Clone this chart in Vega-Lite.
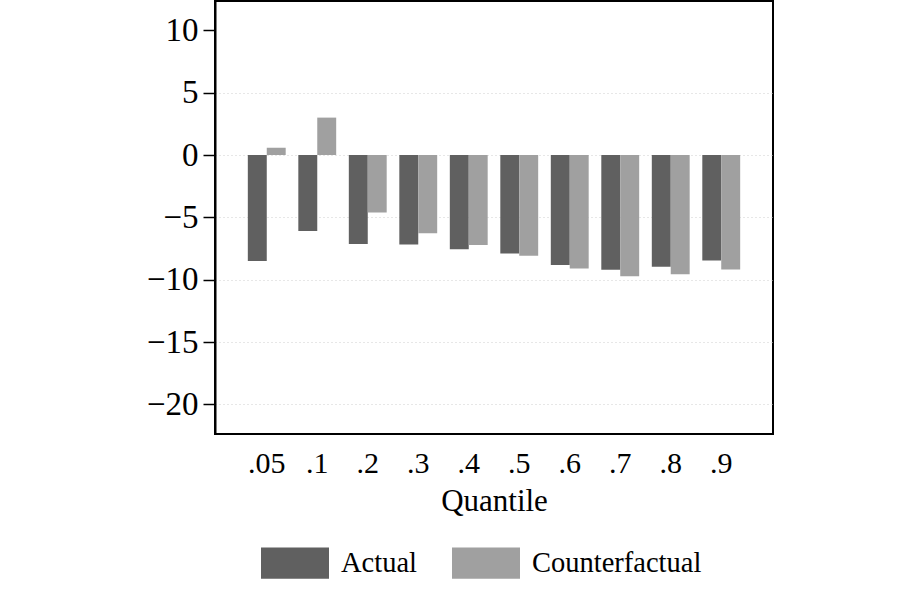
{
  "$schema": "https://vega.github.io/schema/vega-lite/v6.json",
  "width": 558,
  "height": 433,
  "autosize": {"type": "none"},
  "padding": {"left": 215, "top": 1, "right": 127, "bottom": 166},
  "background": "white",
  "config": {
    "font": "Liberation Serif",
    "view": {"stroke": "#000000", "strokeWidth": 2},
    "axis": {"labelColor": "#000000", "titleColor": "#000000", "labelFont": "Liberation Serif", "titleFont": "Liberation Serif", "titleFontWeight": "normal"},
    "legend": {"labelFont": "Liberation Serif", "labelColor": "#000000"}
  },
  "data": {
    "values": [
      {"quantile": ".05", "series": "Actual", "value": -8.5},
      {"quantile": ".05", "series": "Counterfactual", "value": 0.59},
      {"quantile": ".1", "series": "Actual", "value": -6.1},
      {"quantile": ".1", "series": "Counterfactual", "value": 3.0},
      {"quantile": ".2", "series": "Actual", "value": -7.14},
      {"quantile": ".2", "series": "Counterfactual", "value": -4.6},
      {"quantile": ".3", "series": "Actual", "value": -7.17},
      {"quantile": ".3", "series": "Counterfactual", "value": -6.28},
      {"quantile": ".4", "series": "Actual", "value": -7.55},
      {"quantile": ".4", "series": "Counterfactual", "value": -7.22},
      {"quantile": ".5", "series": "Actual", "value": -7.89},
      {"quantile": ".5", "series": "Counterfactual", "value": -8.07},
      {"quantile": ".6", "series": "Actual", "value": -8.82},
      {"quantile": ".6", "series": "Counterfactual", "value": -9.09},
      {"quantile": ".7", "series": "Actual", "value": -9.2},
      {"quantile": ".7", "series": "Counterfactual", "value": -9.73},
      {"quantile": ".8", "series": "Actual", "value": -8.96},
      {"quantile": ".8", "series": "Counterfactual", "value": -9.57},
      {"quantile": ".9", "series": "Actual", "value": -8.45},
      {"quantile": ".9", "series": "Counterfactual", "value": -9.17}
    ]
  },
  "mark": {"type": "bar"},
  "encoding": {
    "x": {
      "field": "quantile",
      "type": "nominal",
      "sort": [".05", ".1", ".2", ".3", ".4", ".5", ".6", ".7", ".8", ".9"],
      "scale": {"paddingInner": 0.25, "paddingOuter": 0.65},
      "axis": {
        "title": "Quantile",
        "labelAngle": 0,
        "ticks": false,
        "domain": false,
        "grid": false,
        "labelFont": "Liberation Serif",
        "titleFont": "Liberation Serif",
        "labelFontSize": 30,
        "titleFontSize": 31,
        "labelPadding": 14,
        "titlePadding": 8
      }
    },
    "xOffset": {
      "field": "series",
      "type": "nominal",
      "sort": ["Actual", "Counterfactual"],
      "scale": {"paddingInner": 0, "paddingOuter": 0}
    },
    "y": {
      "field": "value",
      "type": "quantitative",
      "scale": {"domain": [-22.37, 12.35], "nice": false, "zero": false},
      "axis": {
        "title": null,
        "values": [-20, -15, -10, -5, 0, 5, 10],
        "labelFont": "Liberation Serif",
        "labelFontSize": 33,
        "labelPadding": 5,
        "tickSize": 12,
        "tickWidth": 1.5,
        "tickColor": "#000000",
        "domain": true,
        "domainColor": "#000000",
        "domainWidth": 2,
        "grid": true,
        "gridColor": "#cfcfcf",
        "gridDash": [1, 3],
        "gridWidth": 1,
        "gridOpacity": {"condition": {"test": "datum.value === 10", "value": 0}, "value": 1}
      }
    },
    "color": {
      "field": "series",
      "type": "nominal",
      "sort": ["Actual", "Counterfactual"],
      "scale": {"domain": ["Actual", "Counterfactual"], "range": ["#606060", "#a0a0a0"]},
      "legend": {
        "title": null,
        "orient": "none",
        "direction": "horizontal",
        "legendX": 46,
        "legendY": 528,
        "symbolType": "M-1,-0.46H1V0.46H-1Z",
        "symbolSize": 4624,
        "symbolStrokeWidth": 0,
        "symbolOpacity": 1,
        "labelFont": "Liberation Serif",
        "labelFontSize": 28.5,
        "labelLimit": 400,
        "labelOffset": 12,
        "columnPadding": 35
      }
    }
  }
}
